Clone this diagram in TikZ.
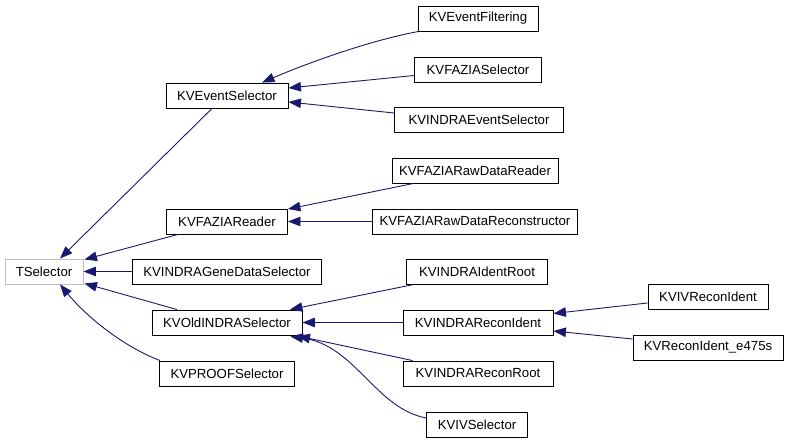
\documentclass[tikz,border=0pt]{standalone}
\usepackage{fontspec}
\setmainfont{Liberation Sans}
\usetikzlibrary{arrows.meta,calc}
\definecolor{edgeblue}{HTML}{191970}
\definecolor{rootgray}{HTML}{BFBFBF}
\tikzset{
  cls/.style={draw=black, line width=0.9pt, fill=white, minimum height=25pt, inner sep=0pt,
    font=\fontsize{13.2}{16}\selectfont},
  rootcls/.style={cls, draw=rootgray},
  inh/.style={draw=edgeblue, line width=0.9pt, -{Triangle[length=12.5pt,width=9.5pt]}, fill=none},
}
\begin{document}
\begin{tikzpicture}[x=1pt,y=-1pt]
\useasboundingbox (0,0) rectangle (788,443);
% rank 0
\node[rootcls, minimum width=78pt] (TSel) at (44,271.5) {TSelector};
% rank 1
\node[cls, minimum width=122pt] (EvSel) at (227,95.5) {KVEventSelector};
\node[cls, minimum width=121pt] (FzRd) at (227,221.5) {KVFAZIAReader};
\node[cls, minimum width=189pt] (Gene) at (227,271.5) {KVINDRAGeneDataSelector};
\node[cls, minimum width=150pt] (Old) at (227,322.5) {KVOldINDRASelector};
\node[cls, minimum width=135pt] (Proof) at (227,373.5) {KVPROOFSelector};
% rank 2
\node[cls, minimum width=120pt] (Filt) at (478,18.5) {KVEventFiltering};
\node[cls, minimum width=127pt] (FzSel) at (478,69.5) {KVFAZIASelector};
\node[cls, minimum width=169pt] (IEvSel) at (479,120) {KVINDRAEventSelector};
\node[cls, minimum width=166pt] (RawRd) at (475,170.5) {KVFAZIARawDataReader};
\node[cls, minimum width=205pt] (RawRec) at (475,221.5) {KVFAZIARawDataReconstructor};
\node[cls, minimum width=141pt] (IdRoot) at (477,271.5) {KVINDRAIdentRoot};
\node[cls, minimum width=150pt] (RecId) at (478,322.5) {KVINDRAReconIdent};
\node[cls, minimum width=150pt] (RecRoot) at (478,373.5) {KVINDRAReconRoot};
\node[cls, minimum width=101pt] (IVSel) at (477,424.5) {KVIVSelector};
% rank 3
\node[cls, minimum width=120pt] (IVRec) at (708,297) {KVIVReconIdent};
\node[cls, minimum width=150pt] (E475) at (708,347.5) {KVReconIdent\_e475s};
% edges to TSelector
\draw[inh] ($(EvSel.south)+(-15,0)$) -- ($(TSel.north)+(16,0)$);
\draw[inh] ($(FzRd.south)+(-49,0)$) -- ($(TSel.north east)+(1,1)$);
\draw[inh] (Gene.west) -- (TSel.east);
\draw[inh] ($(Old.north)+(-50,0)$) -- ($(TSel.south east)+(1,-1)$);
\draw[inh] ($(Proof.north west)+(1,0)$) .. controls (122,346) and (86,316) .. ($(TSel.south)+(16,0)$);
% edges to KVEventSelector
\draw[inh] ($(Filt.south west)+(1,0)$) .. controls (372,40) and (310,62) .. ($(EvSel.north)+(35,0)$);
\draw[inh] ($(FzSel.west)+(0,6)$) -- ($(EvSel.east)+(0,-7.5)$);
\draw[inh] ($(IEvSel.west)+(0,-7)$) -- ($(EvSel.east)+(0,6.5)$);
% edges to KVFAZIAReader
\draw[inh] ($(RawRd.south west)+(22,0)$) -- ($(FzRd.north east)+(0,0.5)$);
\draw[inh] (RawRec.west) -- (FzRd.east);
% edges to KVOldINDRASelector
\draw[inh] ($(IdRoot.south west)+(8,0)$) -- ($(Old.north)+(63,0)$);
\draw[inh] (RecId.west) -- (Old.east);
\draw[inh] ($(RecRoot.north west)+(10,0)$) -- ($(Old.south east)+(-5,0.5)$);
\draw[inh] ($(IVSel.west)+(0,-6.5)$) .. controls (375,408) and (355,345) .. ($(Old.south east)+(-12,1)$);
% edges to KVINDRAReconIdent
\draw[inh] ($(IVRec.west)+(0,6)$) -- ($(RecId.east)+(0,-9)$);
\draw[inh] ($(E475.west)+(0,-8.5)$) -- ($(RecId.east)+(0,8.5)$);
\end{tikzpicture}
\end{document}
